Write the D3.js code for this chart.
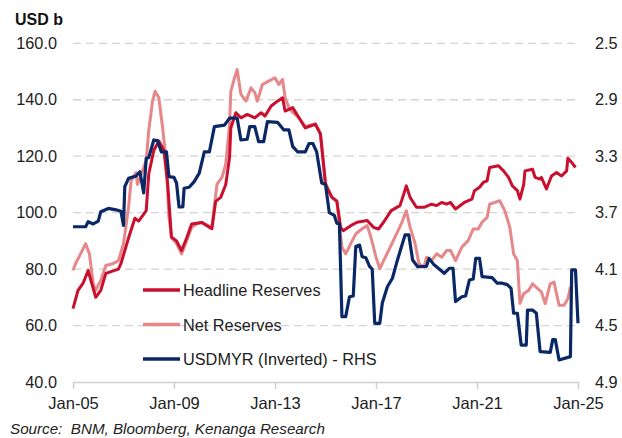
<!DOCTYPE html>
<html>
<head>
<meta charset="utf-8">
<script src="https://cdn.jsdelivr.net/npm/d3@7"></script>
<style>
  body { margin: 0; background: #fff; }
  svg { font-family: "Liberation Sans", Arial, sans-serif; }
</style>
</head>
<body>
<svg class="chart" width="622" height="438"></svg>
<script>
"use strict";
// decimal years
var headlineT = [2005.0, 2005.2, 2005.4, 2005.6, 2005.9, 2006.1, 2006.3, 2006.8, 2006.9, 2007.2, 2007.45, 2007.6, 2007.9, 2008.0, 2008.2, 2008.4, 2008.6, 2008.75, 2008.9, 2009.1, 2009.3, 2009.5, 2009.7, 2010.1, 2010.4, 2010.5, 2010.65, 2010.85, 2011.05, 2011.2, 2011.25, 2011.45, 2011.65, 2011.9, 2012.2, 2012.45, 2012.6, 2012.85, 2013.1, 2013.3, 2013.4, 2013.7, 2013.95, 2014.2, 2014.4, 2014.6, 2014.8, 2015.0, 2015.25, 2015.45, 2015.6, 2015.7, 2016.0, 2016.25, 2016.65, 2016.9, 2017.1, 2017.3, 2017.6, 2017.95, 2018.1, 2018.2, 2018.35, 2018.6, 2018.9, 2019.2, 2019.4, 2019.6, 2019.8, 2019.95, 2020.15, 2020.5, 2020.8, 2020.9, 2021.1, 2021.25, 2021.4, 2021.5, 2021.85, 2022.05, 2022.25, 2022.4, 2022.6, 2022.7, 2022.85, 2022.9, 2023.2, 2023.3, 2023.5, 2023.55, 2023.75, 2023.95, 2024.15, 2024.35, 2024.55, 2024.6, 2024.75, 2024.9];
var headlineV = [66, 72.5, 75, 79.5, 70, 72.5, 78.5, 80, 82, 91, 98, 97, 100.7, 113.7, 122, 125.4, 122, 110, 91.3, 90, 86.6, 91, 96, 96.5, 94.8, 94.3, 104, 105.4, 110, 119.5, 130, 135.4, 133.6, 134.8, 133.6, 135.4, 134.2, 137.8, 139.5, 140.7, 136, 137.2, 133.6, 130, 130.7, 131.3, 127.8, 110, 105.4, 104, 94.8, 93.6, 95.4, 96.6, 97.2, 94.8, 94.2, 96.6, 100.7, 102.5, 106.6, 109.5, 105.4, 101.9, 101.9, 103, 102.5, 103.6, 103, 103.6, 101.3, 103.6, 104.8, 107.8, 109, 110.7, 111.3, 116, 116.6, 114.8, 112.5, 109.5, 107.8, 104.8, 110, 114.8, 115.4, 112.5, 111.9, 112.5, 108.4, 113, 114.2, 113, 114.8, 119.3, 117.8, 116];

var netT = [2005.0, 2005.1, 2005.3, 2005.5, 2005.65, 2005.8, 2005.9, 2006.1, 2006.3, 2006.6, 2006.8, 2007.0, 2007.2, 2007.3, 2007.5, 2007.55, 2007.75, 2007.9, 2008.0, 2008.15, 2008.25, 2008.4, 2008.55, 2008.7, 2008.8, 2008.9, 2009.1, 2009.3, 2009.5, 2009.7, 2009.9, 2010.1, 2010.5, 2010.7, 2010.9, 2011.05, 2011.2, 2011.25, 2011.4, 2011.5, 2011.65, 2011.85, 2012.05, 2012.2, 2012.3, 2012.5, 2012.75, 2013.0, 2013.15, 2013.3, 2013.4, 2013.55, 2013.7, 2013.95, 2014.2, 2014.4, 2014.6, 2014.8, 2015.0, 2015.25, 2015.45, 2015.65, 2015.8, 2016.0, 2016.2, 2016.45, 2016.65, 2016.8, 2017.0, 2017.15, 2017.3, 2017.5, 2017.75, 2018.0, 2018.2, 2018.35, 2018.55, 2018.7, 2018.9, 2019.0, 2019.2, 2019.4, 2019.6, 2019.8, 2019.95, 2020.15, 2020.4, 2020.65, 2020.85, 2021.05, 2021.2, 2021.4, 2021.5, 2021.7, 2021.9, 2022.1, 2022.3, 2022.45, 2022.6, 2022.7, 2022.85, 2023.05, 2023.2, 2023.4, 2023.55, 2023.7, 2023.9, 2024.05, 2024.25, 2024.45, 2024.6, 2024.7];
var netV = [79.5, 81.9, 85.4, 89, 85.4, 74.8, 72.5, 76, 81.3, 82, 83, 89, 101.9, 111.3, 114.2, 110, 114.8, 118.4, 129, 139.5, 143, 140.7, 130, 117.2, 98.3, 91.3, 89, 85.4, 90, 94.8, 96, 96.6, 94.8, 110, 112.5, 117.2, 131.3, 143, 147.8, 150.7, 141.9, 139.5, 144.2, 142.5, 139.5, 145.4, 146.6, 147.8, 145.4, 147.2, 140.7, 137.2, 135.5, 133.6, 130.5, 131, 131.5, 128, 110.5, 105.6, 104.2, 87.8, 85.4, 89, 92.5, 94.3, 95.4, 91.3, 84.2, 80.1, 83, 86.6, 91.3, 96, 100.7, 94.8, 89, 82, 80.7, 84.2, 83, 85.4, 84.2, 86.6, 86.6, 83, 87.8, 90.1, 94.2, 94.2, 96.6, 98.3, 103, 103.6, 104.2, 100.7, 94.8, 85.4, 83, 67.8, 71.3, 72.5, 74.8, 73.1, 71.9, 67.8, 74.8, 75.4, 67.2, 67.2, 69.5, 73.6];

var fxT = [2005.0, 2005.5, 2005.6, 2005.8, 2006.0, 2006.1, 2006.4, 2006.7, 2006.9, 2007.0, 2007.05, 2007.2, 2007.5, 2007.65, 2007.8, 2007.9, 2008.0, 2008.2, 2008.35, 2008.5, 2008.7, 2008.8, 2009.0, 2009.1, 2009.2, 2009.35, 2009.4, 2009.6, 2009.8, 2010.0, 2010.2, 2010.4, 2010.6, 2011.0, 2011.2, 2011.5, 2011.65, 2011.9, 2012.0, 2012.2, 2012.35, 2012.55, 2012.7, 2013.1, 2013.35, 2013.55, 2013.7, 2013.9, 2014.2, 2014.35, 2014.5, 2014.65, 2014.85, 2015.0, 2015.15, 2015.35, 2015.45, 2015.55, 2015.65, 2015.8, 2015.95, 2016.1, 2016.2, 2016.35, 2016.45, 2016.6, 2016.75, 2016.85, 2016.95, 2017.15, 2017.25, 2017.45, 2017.65, 2017.85, 2018.15, 2018.3, 2018.45, 2018.65, 2019.0, 2019.1, 2019.3, 2019.55, 2019.7, 2019.9, 2020.05, 2020.15, 2020.4, 2020.55, 2020.7, 2020.85, 2020.95, 2021.1, 2021.2, 2021.6, 2021.8, 2022.0, 2022.2, 2022.35, 2022.45, 2022.6, 2022.75, 2022.95, 2023.0, 2023.2, 2023.35, 2023.5, 2023.9, 2024.0, 2024.1, 2024.25, 2024.7, 2024.75, 2024.9, 2025.0];
var fxV = [3.80, 3.80, 3.764, 3.78, 3.76, 3.693, 3.67, 3.68, 3.69, 3.79, 3.516, 3.457, 3.44, 3.41, 3.56, 3.315, 3.31, 3.185, 3.19, 3.27, 3.27, 3.445, 3.45, 3.49, 3.66, 3.66, 3.527, 3.52, 3.48, 3.42, 3.27, 3.27, 3.09, 3.08, 3.03, 3.03, 3.185, 3.18, 3.09, 3.09, 3.197, 3.197, 3.055, 3.06, 3.114, 3.114, 3.23, 3.27, 3.27, 3.21, 3.21, 3.27, 3.49, 3.50, 3.70, 3.72, 3.776, 3.776, 4.437, 4.437, 4.296, 4.29, 3.94, 3.93, 4.012, 4.02, 4.083, 4.1, 4.484, 4.484, 4.34, 4.225, 4.165, 4.035, 3.858, 3.858, 4.035, 4.083, 4.08, 4.024, 4.07, 4.106, 4.13, 4.094, 4.094, 4.33, 4.296, 4.29, 4.177, 4.17, 4.024, 4.024, 4.153, 4.16, 4.20, 4.20, 4.21, 4.236, 4.413, 4.413, 4.638, 4.638, 4.39, 4.39, 4.413, 4.685, 4.69, 4.60, 4.60, 4.744, 4.72, 4.106, 4.106, 4.484];

var xTicks = [2005, 2009, 2013, 2017, 2021, 2025];
var leftTicks = [40, 60, 80, 100, 120, 140, 160];
var rightTicks = [2.5, 2.9, 3.3, 3.7, 4.1, 4.5, 4.9];
var seriesNames = ["Headline Reserves", "Net Reserves", "USDMYR (Inverted) - RHS"];
var seriesColors = ["#c8102e", "#e6878a", "#0b2866"];

var plotLeft = 73, plotRight = 578, plotTop = 43.3, plotBottom = 382;
var fontSize = 16.3;

var x = d3.scaleLinear().domain([2005, 2025]).range([plotLeft, plotRight]);
var yL = d3.scaleLinear().domain([40, 160]).range([plotBottom, plotTop]);
var yR = d3.scaleLinear().domain([2.5, 4.9]).range([plotTop, plotBottom]);

var svg = d3.select(".chart");

// dashed gridlines
svg.append("g")
	.selectAll("line")
	.data(leftTicks.slice(1))
	.enter()
	.append("line")
	.attr("x1", plotLeft).attr("x2", plotRight)
	.attr("y1", function(d) { return yL(d); })
	.attr("y2", function(d) { return yL(d); })
	.attr("stroke", "#d4d4d4")
	.attr("stroke-width", 1.3)
	.attr("stroke-dasharray", "8,5");

// left axis labels
var gl = svg.append("g")
	.attr("transform", "translate(" + plotLeft + ",0)")
	.call(d3.axisLeft(yL).tickValues(leftTicks).tickFormat(d3.format(".1f")).tickSize(0).tickPadding(16));
gl.select(".domain").remove();
gl.selectAll("text").attr("font-size", fontSize).attr("fill", "#222").attr("font-family", "Liberation Sans, Arial, sans-serif");

// right axis labels
var gr = svg.append("g")
	.attr("transform", "translate(" + plotRight + ",0)")
	.call(d3.axisRight(yR).tickValues(rightTicks).tickFormat(d3.format(".1f")).tickSize(0).tickPadding(17));
gr.select(".domain").remove();
gr.selectAll("text").attr("font-size", fontSize).attr("fill", "#222").attr("font-family", "Liberation Sans, Arial, sans-serif");

// bottom axis
var gx = svg.append("g")
	.attr("transform", "translate(0," + plotBottom + ")")
	.call(d3.axisBottom(x).tickValues(xTicks)
		.tickFormat(function(d) { return "Jan-" + String(d).slice(2); })
		.tickSize(7).tickSizeOuter(0).tickPadding(8));
gx.select(".domain").attr("stroke", "#d0d0d0").attr("stroke-width", 1.5);
gx.selectAll(".tick line").attr("stroke", "#d0d0d0").attr("stroke-width", 1.5);
gx.selectAll("text").attr("font-size", 16.5).attr("fill", "#222").attr("font-family", "Liberation Sans, Arial, sans-serif");

// lines
function zipPts(t, v) { return t.map(function(d, i) { return [d, v[i]]; }); }

var lineL = d3.line().x(function(d) { return x(d[0]); }).y(function(d) { return yL(d[1]); });
var lineR = d3.line().x(function(d) { return x(d[0]); }).y(function(d) { return yR(d[1]); });

svg.append("path").datum(zipPts(netT, netV))
	.attr("d", lineL).attr("fill", "none")
	.attr("stroke", seriesColors[1]).attr("stroke-width", 3).attr("stroke-linejoin", "round");
svg.append("path").datum(zipPts(headlineT, headlineV))
	.attr("d", lineL).attr("fill", "none")
	.attr("stroke", seriesColors[0]).attr("stroke-width", 3).attr("stroke-linejoin", "round");
svg.append("path").datum(zipPts(fxT, fxV))
	.attr("d", lineR).attr("fill", "none")
	.attr("stroke", seriesColors[2]).attr("stroke-width", 3.2).attr("stroke-linejoin", "round");

// legend
var leg = svg.append("g").selectAll("g")
	.data(seriesNames)
	.enter()
	.append("g")
	.attr("transform", function(d, i) { return "translate(143," + (290 + i * 34.5) + ")"; });
leg.append("line")
	.attr("x1", 0).attr("x2", 37)
	.attr("stroke", function(d, i) { return seriesColors[i]; })
	.attr("stroke-width", 3.5);
leg.append("text")
	.attr("x", 40).attr("y", 6)
	.attr("font-size", fontSize).attr("fill", "#222")
	.text(function(d) { return d; });

// titles
svg.append("text").attr("x", 15).attr("y", 25)
	.attr("font-size", 16).attr("font-weight", "bold").attr("fill", "#111")
	.text("USD b");
svg.append("text").attr("x", 10).attr("y", 434)
	.attr("font-size", 15.2).attr("font-style", "italic").attr("fill", "#222")
	.attr("xml:space", "preserve")
	.text("Source:  BNM, Bloomberg, Kenanga Research");
</script>
</body>
</html>
